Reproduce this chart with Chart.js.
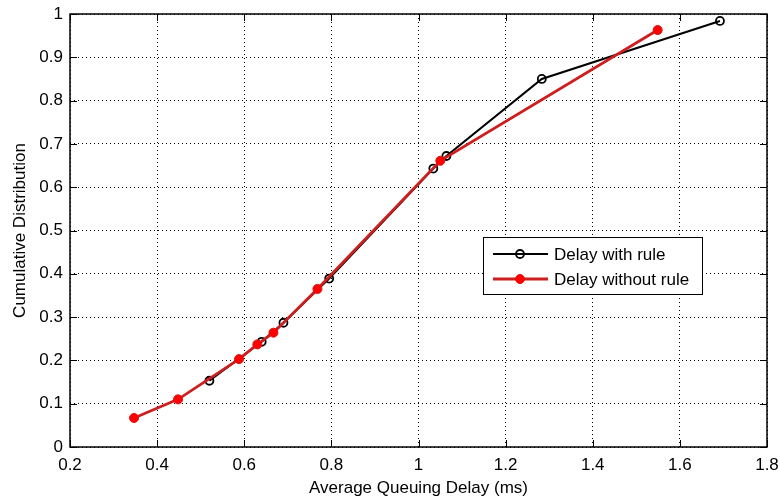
<!DOCTYPE html>
<html>
<head>
<meta charset="utf-8">
<script src="https://cdn.jsdelivr.net/npm/chart.js@4/dist/chart.umd.min.js"></script>
<style>
  html, body { margin: 0; padding: 0; background: #fff; }
</style>
</head>
<body>
<canvas id="cdfChart" width="780" height="499"></canvas>
<script>
// values
const withRuleDelay = [0.52, 0.64, 0.69, 0.795, 1.034, 1.064, 1.283, 1.692];
const withRuleCdf   = [0.153, 0.243, 0.287, 0.389, 0.643, 0.672, 0.850, 0.984];

const withoutRuleDelay = [0.347, 0.448, 0.588, 0.630, 0.667, 0.768, 1.050, 1.549];
const withoutRuleCdf   = [0.067, 0.110, 0.203, 0.237, 0.264, 0.365, 0.661, 0.963];

const xTicks = [0.2, 0.4, 0.6, 0.8, 1, 1.2, 1.4, 1.6, 1.8];
const yTicks = [0, 0.1, 0.2, 0.3, 0.4, 0.5, 0.6, 0.7, 0.8, 0.9, 1];

const FONT = '"Liberation Sans", Arial, sans-serif';

const toPoints = (xs, ys) => xs.map((x, i) => ({ x: x, y: ys[i] }));
const tickLabel = v => String(Math.round(v * 10) / 10);

// MATLAB style box with inward ticks
const axesBox = {
    id: 'axesBox',
    beforeDatasetsDraw(chart) {
        const { ctx, chartArea: a, scales } = chart;
        ctx.save();
        ctx.strokeStyle = '#000';
        ctx.lineWidth = 1;
        ctx.beginPath();
        xTicks.forEach(v => {
            const px = Math.round(scales.x.getPixelForValue(v)) + 0.5;
            ctx.moveTo(px, a.bottom); ctx.lineTo(px, a.bottom - 7);
            ctx.moveTo(px, a.top); ctx.lineTo(px, a.top + 7);
        });
        yTicks.forEach(v => {
            const py = Math.round(scales.y.getPixelForValue(v)) + 0.5;
            ctx.moveTo(a.left, py); ctx.lineTo(a.left + 7, py);
            ctx.moveTo(a.right, py); ctx.lineTo(a.right - 7, py);
        });
        ctx.stroke();
        ctx.lineWidth = 1.5;
        ctx.strokeRect(a.left, a.top, a.right - a.left, a.bottom - a.top);
        ctx.restore();
    }
};

// legend box inside the plot
const boxLegend = {
    id: 'boxLegend',
    afterDraw(chart) {
        const { ctx, chartArea: a } = chart;
        const x0 = a.right - 284, y0 = a.top + 223, w = 219, h = 57;
        ctx.save();
        ctx.fillStyle = '#fff';
        ctx.fillRect(x0, y0, w, h);
        ctx.strokeStyle = '#000';
        ctx.lineWidth = 1;
        ctx.strokeRect(x0 + 0.5, y0 + 0.5, w, h);
        chart.data.datasets.forEach((ds, i) => {
            const ly = y0 + 17 + i * 25;
            ctx.strokeStyle = ds.borderColor;
            ctx.lineWidth = ds.borderWidth;
            ctx.beginPath();
            ctx.moveTo(x0 + 10, ly); ctx.lineTo(x0 + 65, ly);
            ctx.stroke();
            ctx.beginPath();
            ctx.arc(x0 + 37, ly, ds.pointRadius, 0, Math.PI * 2);
            ctx.fillStyle = ds.pointBackgroundColor;
            ctx.fill();
            ctx.strokeStyle = ds.pointBorderColor;
            ctx.lineWidth = ds.pointBorderWidth;
            ctx.stroke();
            ctx.fillStyle = '#000';
            ctx.font = '17px ' + FONT;
            ctx.textBaseline = 'middle';
            ctx.fillText(ds.label, x0 + 71, ly + 1);
        });
        ctx.restore();
    }
};

const ctx = document.getElementById('cdfChart').getContext('2d');

const cdfChart = new Chart(ctx, {
    type: 'line',
    data: {
        datasets: [{
            label: 'Delay with rule',
            data: toPoints(withRuleDelay, withRuleCdf),
            borderColor: '#000',
            borderWidth: 2,
            pointRadius: 4,
            pointBackgroundColor: 'rgba(0,0,0,0)',
            pointBorderColor: '#000',
            pointBorderWidth: 1.8,
            order: 1
        }, {
            label: 'Delay without rule',
            data: toPoints(withoutRuleDelay, withoutRuleCdf),
            borderColor: '#cc1f1f',
            borderWidth: 2.8,
            pointRadius: 4.5,
            pointBackgroundColor: '#ff0000',
            pointBorderColor: '#e01010',
            pointBorderWidth: 1,
            order: 0
        }]
    },
    options: {
        responsive: false,
        animation: false,
        layout: { padding: 0 },
        plugins: {
            legend: { display: false },
            tooltip: { enabled: false }
        },
        scales: {
            x: {
                type: 'linear',
                min: 0.2,
                max: 1.8,
                afterBuildTicks: s => { s.ticks = xTicks.map(v => ({ value: v })); },
                afterFit: s => { s.height = 52; s.paddingRight = 13; s.paddingLeft = 0; },
                ticks: {
                    color: '#000',
                    padding: 8,
                    maxRotation: 0,
                    callback: tickLabel,
                    font: { family: FONT, size: 17 }
                },
                grid: { color: '#000', drawTicks: false, lineWidth: 1 },
                border: { display: false, dash: [1, 3] },
                title: {
                    display: true,
                    text: 'Average Queuing Delay (ms)',
                    color: '#000',
                    padding: { top: 2, bottom: 0 },
                    font: { family: FONT, size: 17 }
                }
            },
            y: {
                type: 'linear',
                min: 0,
                max: 1,
                afterBuildTicks: s => { s.ticks = yTicks.map(v => ({ value: v })); },
                afterFit: s => { s.width = 70; s.paddingTop = 14; s.paddingBottom = 0; },
                ticks: {
                    color: '#000',
                    padding: 7,
                    callback: tickLabel,
                    font: { family: FONT, size: 17 }
                },
                grid: { color: '#000', drawTicks: false, lineWidth: 1 },
                border: { display: false, dash: [1, 3] },
                title: {
                    display: true,
                    text: 'Cumulative Distribution',
                    color: '#000',
                    padding: { top: 10, bottom: 0 },
                    font: { family: FONT, size: 17 }
                }
            }
        }
    },
    plugins: [axesBox, boxLegend]
});
</script>
</body>
</html>
